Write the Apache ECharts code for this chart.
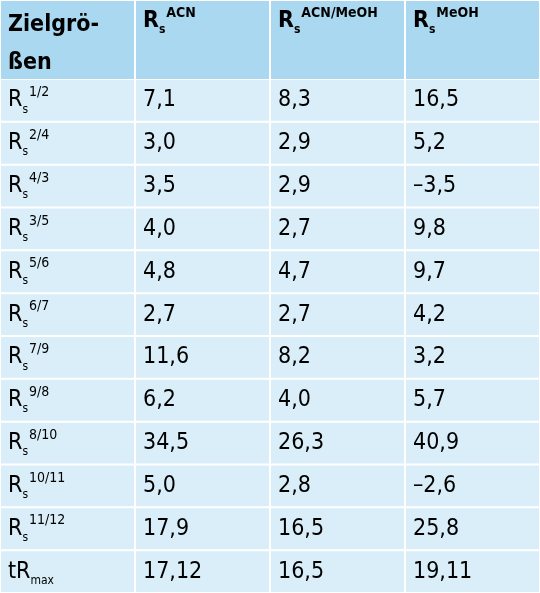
<!DOCTYPE html><html><head><meta charset="utf-8">
<script src="https://cdn.jsdelivr.net/npm/echarts@6/dist/echarts.min.js"></script>
<style>html,body{margin:0;padding:0;background:#fff}#c{width:540px;height:593px}</style></head>
<body><div id="c"></div><script>
var headers = ['Zielgrö-\nßen', 'ACN', 'ACN/MeOH', 'MeOH'];
var rowSup = ['1/2','2/4','4/3','3/5','5/6','6/7','7/9','9/8','8/10','10/11','11/12','max'];
var colACN = ['7,1','3,0','3,5','4,0','4,8','2,7','11,6','6,2','34,5','5,0','17,9','17,12'];
var colMix = ['8,3','2,9','2,9','2,7','4,7','2,7','8,2','4,0','26,3','2,8','16,5','16,5'];
var colMeOH = ['16,5','5,2','–3,5','9,8','9,7','4,2','3,2','5,7','40,9','–2,6','25,8','19,11'];

var FONT = '"DejaVu Sans Condensed","Noto Sans",sans-serif';
var rich = {
  r:{fontSize:23,lineHeight:30,fontFamily:FONT,color:'#1b1b1b',verticalAlign:'middle'},
  rb:{fontSize:23,lineHeight:30,fontFamily:FONT,color:'#1b1b1b',fontWeight:'bold',verticalAlign:'middle'},
  s:{fontSize:12,lineHeight:30,fontFamily:FONT,color:'#1b1b1b',verticalAlign:'bottom',padding:[0,1,0,0]},
  sb:{fontSize:12,lineHeight:30,fontFamily:FONT,color:'#1b1b1b',fontWeight:'bold',verticalAlign:'bottom',padding:[0,1,0,0]},
  p:{fontSize:14,lineHeight:30,fontFamily:FONT,color:'#1b1b1b',verticalAlign:'top'},
  pb:{fontSize:14,lineHeight:30,fontFamily:FONT,color:'#1b1b1b',fontWeight:'bold',verticalAlign:'top'},
  h:{fontSize:23,lineHeight:38,fontFamily:FONT,color:'#1b1b1b',fontWeight:'bold'}
};
var headData = headers.map(function(h,i){
  var t = i===0 ? '{h|Zielgrö-}\n{h|ßen}' : '{rb|R}{sb|s}{pb|'+h+'}';
  return [i,0,t];
});
var bodyData = [];
var rowCats = [];
rowSup.forEach(function(s,j){
  rowCats.push(String(j));
  var first = s==='max' ? '{r|tR}{s|max}' : '{r|R}{s|s}{p|'+s+'}';
  bodyData.push([0,j,first]);
  bodyData.push([1,j,'{r|'+colACN[j]+'}']);
  bodyData.push([2,j,'{r|'+colMix[j]+'}']);
  bodyData.push([3,j,'{r|'+colMeOH[j]+'}']);
});
function mk(fill, topAlign){
  return function(params, api){
    var c = api.coord([api.value(0), api.value(1)]);
    var sz = api.size([1,1]);
    var x = c[0]-sz[0]/2, y = c[1]-sz[1]/2;
    return {type:'group',children:[
      {type:'rect',shape:{x:x+1,y:y+1,width:sz[0]-2,height:sz[1]-2},style:{fill:fill}},
      {type:'text',x:x+8,y:topAlign? y+6 : c[1],style:{text:api.value(2),rich:rich,
        verticalAlign:topAlign?'top':'middle',align:'left'}}
    ]};
  };
}
var cols = ['0','1','2','3'];
var chart = echarts.init(document.getElementById('c'));
chart.setOption({
  animation:false,
  grid:[{left:-3,right:-1,top:-1,height:81},{left:-3,right:-1,top:79,bottom:-1}],
  xAxis:[{type:'category',data:cols,gridIndex:0,show:false},{type:'category',data:cols,gridIndex:1,show:false}],
  yAxis:[{type:'category',data:['h'],gridIndex:0,show:false,inverse:true},{type:'category',data:rowCats,gridIndex:1,show:false,inverse:true}],
  series:[
    {type:'custom',xAxisIndex:0,yAxisIndex:0,data:headData,renderItem:mk('#a9d8f0',true),encode:{x:0,y:1}},
    {type:'custom',xAxisIndex:1,yAxisIndex:1,data:bodyData,renderItem:mk('#d9eef9',false),encode:{x:0,y:1}}
  ]
});
</script></body></html>
